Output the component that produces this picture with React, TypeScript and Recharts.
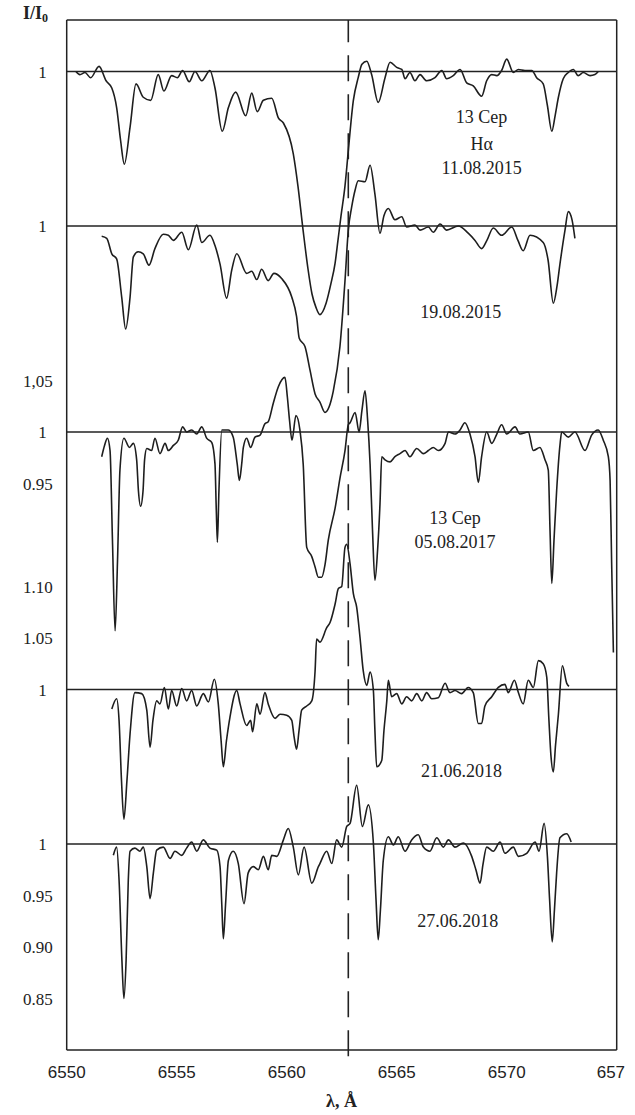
import React from "react";
import { LineChart, Line, XAxis, YAxis, ReferenceLine, ReferenceDot } from "recharts";

// 13 Cep, H-alpha region. Each spectrum: [wavelength, A ; I/I0]
const sp110815: [number, number][] = [
  [6550.42, 1.0], [6550.6, 0.997], [6550.83, 0.999], [6551.09, 0.994], [6551.47, 1.005],
  [6551.79, 0.991], [6552.05, 0.984], [6552.27, 0.965], [6552.45, 0.933], [6552.62, 0.91],
  [6552.88, 0.946], [6553.15, 0.988], [6553.48, 0.975], [6553.82, 0.972], [6554.16, 0.997],
  [6554.42, 0.981], [6554.77, 0.996], [6555.03, 0.994], [6555.27, 1.001], [6555.57, 0.99],
  [6555.83, 1.0], [6556.14, 0.991], [6556.51, 1.001], [6556.74, 0.984], [6557.07, 0.942],
  [6557.35, 0.965], [6557.68, 0.98], [6558.14, 0.957], [6558.41, 0.979], [6558.66, 0.961],
  [6558.94, 0.972], [6559.32, 0.974], [6559.62, 0.955], [6559.85, 0.95], [6560.3, 0.92],
  [6560.51, 0.889], [6560.75, 0.845], [6560.97, 0.808], [6561.15, 0.784], [6561.33, 0.771],
  [6561.51, 0.764], [6561.79, 0.775], [6562.01, 0.794], [6562.2, 0.814], [6562.33, 0.836],
  [6562.47, 0.86], [6562.65, 0.889], [6562.8, 0.923], [6563.03, 0.972], [6563.25, 0.994],
  [6563.42, 1.007], [6563.64, 1.01], [6563.86, 0.997], [6564.16, 0.97], [6564.47, 0.994],
  [6564.7, 1.009], [6565.0, 1.004], [6565.23, 1.002], [6565.38, 0.993], [6565.6, 0.999],
  [6565.83, 0.991], [6566.06, 0.997], [6566.36, 0.991], [6566.74, 0.994], [6567.05, 1.001],
  [6567.27, 0.993], [6567.57, 0.996], [6567.88, 1.002], [6568.18, 0.989], [6568.48, 0.986],
  [6568.86, 0.976], [6569.09, 0.991], [6569.32, 0.997], [6569.55, 0.996], [6569.77, 1.001],
  [6570.0, 1.012], [6570.3, 0.999], [6570.53, 1.002], [6570.83, 1.001], [6571.14, 1.001],
  [6571.36, 0.994], [6571.66, 0.988], [6571.85, 0.967], [6572.05, 0.942], [6572.2, 0.957],
  [6572.35, 0.975], [6572.57, 0.993], [6572.8, 0.999], [6573.03, 1.002], [6573.25, 0.996],
  [6573.48, 0.999], [6573.79, 0.996], [6574.01, 0.997], [6574.16, 1.0],
];

const sp190815: [number, number][] = [
  [6551.59, 0.99], [6551.82, 0.988], [6552.05, 0.973], [6552.27, 0.968], [6552.5, 0.931],
  [6552.68, 0.9], [6552.88, 0.931], [6553.03, 0.97], [6553.25, 0.975], [6553.48, 0.973],
  [6553.74, 0.962], [6554.01, 0.978], [6554.39, 0.992], [6554.62, 0.991], [6554.85, 0.986],
  [6555.23, 0.994], [6555.53, 0.977], [6555.91, 1.001], [6556.14, 0.984], [6556.51, 0.991],
  [6556.74, 0.981], [6556.97, 0.963], [6557.27, 0.93], [6557.5, 0.957], [6557.73, 0.973],
  [6558.18, 0.954], [6558.41, 0.956], [6558.64, 0.948], [6558.86, 0.958], [6559.16, 0.947],
  [6559.42, 0.954], [6559.77, 0.949], [6560.23, 0.931], [6560.45, 0.912], [6560.57, 0.891],
  [6560.83, 0.883], [6561.06, 0.86], [6561.29, 0.837], [6561.51, 0.829], [6561.74, 0.819],
  [6561.92, 0.824], [6562.12, 0.84], [6562.42, 0.883], [6562.65, 0.947], [6562.8, 0.996],
  [6562.95, 1.018], [6563.11, 1.035], [6563.25, 1.044], [6563.56, 1.043], [6563.79, 1.059],
  [6564.01, 1.031], [6564.24, 0.993], [6564.42, 1.01], [6564.62, 1.017], [6564.92, 1.006],
  [6565.23, 1.009], [6565.45, 0.999], [6565.83, 1.001], [6566.06, 0.996], [6566.44, 0.999],
  [6566.66, 0.994], [6566.97, 1.002], [6567.27, 0.996], [6567.8, 1.0], [6568.25, 0.993],
  [6568.56, 0.986], [6568.86, 0.978], [6569.1, 0.986], [6569.39, 0.998], [6569.77, 0.991],
  [6570.23, 0.999], [6570.51, 0.986], [6570.75, 0.976], [6571.06, 0.991], [6571.66, 0.984],
  [6571.88, 0.967], [6572.12, 0.925], [6572.29, 0.942], [6572.42, 0.963], [6572.65, 0.996],
  [6572.8, 1.014], [6572.97, 1.006], [6573.1, 0.988],
];

const sp050817: [number, number][] = [
  [6551.59, 0.976], [6551.72, 0.987], [6551.85, 0.994], [6551.97, 0.982], [6552.08, 0.895],
  [6552.2, 0.807], [6552.31, 0.875], [6552.42, 0.963], [6552.6, 0.994], [6552.85, 0.985],
  [6553.03, 0.989], [6553.18, 0.973], [6553.26, 0.943], [6553.36, 0.928], [6553.47, 0.943],
  [6553.54, 0.973], [6553.64, 0.984], [6553.86, 0.982], [6554.01, 0.994], [6554.24, 0.979],
  [6554.47, 0.989], [6554.62, 0.982], [6554.85, 0.987], [6555.07, 0.992], [6555.27, 1.005],
  [6555.45, 1.0], [6555.68, 1.002], [6555.91, 0.998], [6556.14, 1.005], [6556.36, 0.994],
  [6556.59, 0.99], [6556.74, 0.969], [6556.8, 0.924], [6556.85, 0.893], [6556.92, 0.943],
  [6557.05, 1.002], [6557.35, 1.002], [6557.57, 0.995], [6557.75, 0.969], [6557.85, 0.953],
  [6557.95, 0.968], [6558.03, 0.985], [6558.18, 0.994], [6558.36, 0.985], [6558.56, 0.995],
  [6558.79, 0.997], [6559.01, 1.008], [6559.16, 1.01], [6559.39, 1.028], [6559.62, 1.044],
  [6559.92, 1.053], [6560.03, 1.034], [6560.13, 1.011], [6560.24, 0.992], [6560.42, 1.016],
  [6560.6, 1.002], [6560.75, 0.969], [6560.91, 0.888], [6561.14, 0.879], [6561.29, 0.869],
  [6561.44, 0.859], [6561.59, 0.859], [6561.74, 0.871], [6561.89, 0.895], [6562.2, 0.926],
  [6562.42, 0.955], [6562.65, 0.982], [6562.8, 1.007], [6562.88, 1.009], [6563.11, 1.019],
  [6563.29, 1.0], [6563.42, 1.021], [6563.56, 1.04], [6563.68, 1.011], [6563.79, 0.969],
  [6563.9, 0.905], [6564.01, 0.856], [6564.13, 0.885], [6564.24, 0.93], [6564.32, 0.976],
  [6564.47, 0.973], [6564.7, 0.971], [6564.92, 0.976], [6565.15, 0.979], [6565.38, 0.982],
  [6565.6, 0.976], [6565.91, 0.984], [6566.21, 0.979], [6566.44, 0.982], [6566.66, 0.985],
  [6566.89, 0.982], [6567.2, 0.989], [6567.35, 1.0], [6567.65, 0.998], [6567.88, 1.002],
  [6568.1, 1.009], [6568.33, 0.998], [6568.56, 0.976], [6568.71, 0.951], [6568.86, 0.976],
  [6569.09, 1.0], [6569.32, 0.989], [6569.55, 0.998], [6569.77, 1.007], [6570.0, 0.998],
  [6570.38, 1.005], [6570.6, 0.998], [6570.98, 1.0], [6571.21, 0.982], [6571.51, 0.985],
  [6571.74, 0.973], [6571.89, 0.963], [6571.97, 0.904], [6572.05, 0.853], [6572.15, 0.895],
  [6572.27, 0.943], [6572.42, 0.987], [6572.5, 1.0], [6572.8, 0.995], [6573.1, 1.0],
  [6573.56, 0.982], [6573.86, 0.997], [6574.16, 1.002], [6574.39, 0.992], [6574.62, 0.976],
  [6574.7, 0.953], [6574.77, 0.873], [6574.85, 0.786],
];

const sp210618: [number, number][] = [
  [6552.05, 0.981], [6552.27, 0.991], [6552.38, 0.97], [6552.49, 0.912], [6552.6, 0.874],
  [6552.74, 0.912], [6552.88, 0.957], [6553.1, 0.997], [6553.41, 0.996], [6553.64, 0.98],
  [6553.79, 0.944], [6553.92, 0.97], [6554.09, 0.989], [6554.24, 0.986], [6554.44, 1.002],
  [6554.62, 0.981], [6554.77, 0.999], [6555.0, 0.984], [6555.23, 1.001], [6555.45, 0.989],
  [6555.68, 0.999], [6555.91, 0.984], [6556.21, 0.996], [6556.44, 0.988], [6556.71, 1.01],
  [6556.89, 0.986], [6557.02, 0.95], [6557.12, 0.925], [6557.26, 0.95], [6557.42, 0.973],
  [6557.73, 0.999], [6557.88, 0.986], [6558.18, 0.965], [6558.36, 0.97], [6558.45, 0.959],
  [6558.64, 0.986], [6558.79, 0.976], [6559.01, 0.997], [6559.16, 0.986], [6559.47, 0.972],
  [6559.7, 0.976], [6560.0, 0.975], [6560.23, 0.97], [6560.33, 0.955], [6560.45, 0.942],
  [6560.56, 0.96], [6560.68, 0.98], [6560.91, 0.984], [6561.14, 0.989], [6561.29, 1.018],
  [6561.36, 1.049], [6561.51, 1.046], [6561.82, 1.06], [6561.97, 1.065], [6562.2, 1.083],
  [6562.35, 1.098], [6562.5, 1.1], [6562.65, 1.138], [6562.73, 1.141], [6562.88, 1.122],
  [6563.03, 1.093], [6563.18, 1.08], [6563.33, 1.051], [6563.48, 1.018], [6563.64, 1.004],
  [6563.79, 1.017], [6563.94, 0.999], [6564.01, 0.96], [6564.09, 0.925], [6564.32, 0.931],
  [6564.42, 0.96], [6564.55, 0.989], [6564.62, 1.009], [6564.77, 0.993], [6565.0, 0.996],
  [6565.23, 0.986], [6565.45, 0.993], [6565.68, 0.989], [6565.91, 0.996], [6566.14, 0.989],
  [6566.36, 0.997], [6566.59, 0.991], [6566.89, 0.992], [6567.2, 1.006], [6567.42, 0.997],
  [6567.65, 0.999], [6567.95, 0.996], [6568.25, 1.002], [6568.48, 0.997], [6568.71, 0.967],
  [6568.86, 0.967], [6569.01, 0.984], [6569.32, 0.993], [6569.62, 1.002], [6569.92, 1.005],
  [6570.07, 0.997], [6570.35, 1.009], [6570.53, 0.997], [6570.75, 0.986], [6570.98, 1.009],
  [6571.21, 1.002], [6571.44, 1.028], [6571.66, 1.025], [6571.82, 1.012], [6571.92, 0.97],
  [6572.01, 0.936], [6572.12, 0.92], [6572.22, 0.946], [6572.35, 0.976], [6572.53, 1.023],
  [6572.73, 1.006], [6572.83, 1.003],
];

const sp270618: [number, number][] = [
  [6552.12, 0.989], [6552.27, 0.997], [6552.38, 0.965], [6552.51, 0.887], [6552.6, 0.85],
  [6552.7, 0.887], [6552.8, 0.965], [6552.88, 0.993], [6553.1, 0.996], [6553.33, 0.993],
  [6553.48, 0.997], [6553.64, 0.978], [6553.79, 0.947], [6553.94, 0.972], [6554.09, 0.994],
  [6554.39, 0.997], [6554.7, 0.986], [6554.92, 0.993], [6555.23, 0.989], [6555.45, 0.996],
  [6555.68, 1.002], [6555.91, 0.993], [6556.21, 1.004], [6556.51, 0.996], [6556.82, 0.994],
  [6556.97, 0.978], [6557.05, 0.941], [6557.12, 0.908], [6557.22, 0.941], [6557.35, 0.984],
  [6557.57, 0.993], [6557.8, 0.981], [6558.06, 0.942], [6558.25, 0.972], [6558.48, 0.978],
  [6558.71, 0.975], [6558.94, 0.988], [6559.16, 0.975], [6559.32, 0.989], [6559.55, 0.988],
  [6559.85, 1.004], [6560.07, 1.015], [6560.3, 0.997], [6560.53, 0.97], [6560.79, 0.997],
  [6561.14, 0.962], [6561.44, 0.978], [6561.51, 0.981], [6561.82, 0.993], [6562.05, 0.981],
  [6562.27, 1.004], [6562.5, 0.997], [6562.73, 1.017], [6562.88, 1.02], [6563.18, 1.057],
  [6563.44, 1.017], [6563.71, 1.038], [6563.94, 1.001], [6564.06, 0.946], [6564.16, 0.907],
  [6564.26, 0.936], [6564.39, 0.984], [6564.62, 1.007], [6564.85, 0.999], [6565.07, 1.007],
  [6565.38, 0.993], [6565.68, 1.004], [6565.98, 1.009], [6566.21, 0.997], [6566.51, 0.993],
  [6566.82, 1.006], [6567.12, 0.997], [6567.35, 1.004], [6567.65, 0.997], [6568.03, 1.001],
  [6568.41, 0.988], [6568.6, 0.975], [6568.79, 0.962], [6568.92, 0.98], [6569.09, 0.997],
  [6569.39, 0.993], [6569.7, 1.002], [6569.92, 0.991], [6570.3, 0.997], [6570.53, 0.988],
  [6570.91, 0.991], [6571.29, 1.002], [6571.47, 0.993], [6571.7, 1.02], [6571.85, 0.988],
  [6571.95, 0.946], [6572.07, 0.905], [6572.17, 0.936], [6572.27, 0.972], [6572.42, 1.006],
  [6572.73, 1.01], [6572.93, 1.002],
];

// vertical shift of each spectrum on the common axis
const spectra = [
  { id: "110815", shift: 0.75, points: sp110815 },
  { id: "190815", shift: 0.6, points: sp190815 },
  { id: "050817", shift: 0.4, points: sp050817 },
  { id: "210618", shift: 0.15, points: sp210618 },
  { id: "270618", shift: 0, points: sp270618 },
];

const xTicks = [6550, 6555, 6560, 6565, 6570, 6575];
const xTickText = ["6550", "6555", "6560", "6565", "6570", "657"];
const yTicks = [
  -0.15, -0.1, -0.05, 0, 0.05, 0.1, 0.15, 0.2, 0.25, 0.3,
  0.35, 0.4, 0.45, 0.5, 0.55, 0.6, 0.65, 0.7, 0.75,
];
const yTickText = [
  "0.85", "0.90", "0.95", "1", "", "", "1", "1.05", "1.10", "",
  "0.95", "1", "1,05", "", "", "1", "", "", "1",
];
const halpha = 6562.8;

const notes = [
  { text: "13 Cep", x: 6568.86, y: 0.706 },
  { text: "Hα", x: 6568.86, y: 0.68 },
  { text: "11.08.2015", x: 6568.86, y: 0.657 },
  { text: "19.08.2015", x: 6567.91, y: 0.517 },
  { text: "13 Cep", x: 6567.65, y: 0.317 },
  { text: "05.08.2017", x: 6567.65, y: 0.294 },
  { text: "21.06.2018", x: 6567.95, y: 0.071 },
  { text: "27.06.2018", x: 6567.77, y: -0.074 },
];

const INK = "#222";
const SERIF = "'Liberation Serif', 'Times New Roman', serif";
const SANS = "'Liberation Sans', Arial, sans-serif";

const YTick = (props: any) => {
  const { x, y, payload } = props;
  const i = yTicks.findIndex((t) => Math.abs(t - payload.value) < 1e-6);
  const text = i >= 0 ? yTickText[i] : "";
  if (!text) return <g />;
  return (
    <text
      x={x}
      y={y}
      dx={text === "1" ? -6 : 0}
      dy="0.38em"
      textAnchor="end"
      fontFamily={SERIF}
      fontSize={17}
      fill={INK}
    >
      {text}
    </text>
  );
};

const XTick = (props: any) => {
  const { x, y, payload } = props;
  const i = xTicks.indexOf(payload.value);
  const text = i >= 0 ? xTickText[i] : "";
  const last = i === xTicks.length - 1;
  return (
    <text
      x={x}
      y={y}
      dx={last ? -20 : 0}
      dy="0.71em"
      textAnchor={last ? "start" : "middle"}
      fontFamily={SANS}
      fontSize={17}
      fill={INK}
    >
      {text}
    </text>
  );
};

export default function App() {
  const series = spectra.map((s) => ({
    id: s.id,
    data: s.points.map(([lam, v]) => ({ x: lam, y: v - 1 + s.shift })),
  }));

  return (
    <div
      style={{
        position: "absolute",
        left: 0,
        top: 0,
        width: 635,
        height: 1115,
        background: "#fff",
      }}
    >
      <LineChart
        width={635}
        height={1115}
        margin={{ top: 20, right: 18.3, bottom: 35, left: 6.7 }}
      >
        <XAxis
          xAxisId="b"
          dataKey="x"
          type="number"
          domain={[6550, 6575]}
          ticks={xTicks}
          interval={0}
          allowDataOverflow
          height={30}
          tickLine={false}
          tickSize={0}
          tickMargin={16}
          axisLine={{ stroke: INK, strokeWidth: 1.5 }}
          tick={<XTick />}
        />
        <XAxis
          xAxisId="bm"
          dataKey="x"
          type="number"
          domain={[6550, 6575]}
          ticks={xTicks}
          interval={0}
          mirror
          axisLine={false}
          tick={false}
          tickSize={7}
          tickLine={{ stroke: INK, strokeWidth: 1.3 }}
        />
        <XAxis
          xAxisId="t"
          orientation="top"
          dataKey="x"
          type="number"
          domain={[6550, 6575]}
          ticks={xTicks}
          interval={0}
          mirror
          tick={false}
          tickSize={7}
          axisLine={{ stroke: INK, strokeWidth: 1.5 }}
          tickLine={{ stroke: INK, strokeWidth: 1.3 }}
        />
        <YAxis
          yAxisId="l"
          type="number"
          domain={[-0.2, 0.8]}
          ticks={yTicks}
          interval={0}
          allowDataOverflow
          width={60}
          tickLine={false}
          tickSize={0}
          tickMargin={14}
          axisLine={{ stroke: INK, strokeWidth: 1.5 }}
          tick={<YTick />}
        />
        <YAxis
          yAxisId="lm"
          type="number"
          domain={[-0.2, 0.8]}
          ticks={yTicks}
          interval={0}
          mirror
          axisLine={false}
          tick={false}
          tickSize={7}
          tickLine={{ stroke: INK, strokeWidth: 1.3 }}
        />
        <YAxis
          yAxisId="rm"
          orientation="right"
          type="number"
          domain={[-0.2, 0.8]}
          ticks={yTicks}
          interval={0}
          mirror
          tick={false}
          tickSize={7}
          axisLine={{ stroke: INK, strokeWidth: 1.5 }}
          tickLine={{ stroke: INK, strokeWidth: 1.3 }}
        />

        {spectra.map((s) => (
          <ReferenceLine
            key={"c" + s.id}
            xAxisId="b"
            yAxisId="l"
            y={s.shift}
            stroke={INK}
            strokeWidth={1.5}
          />
        ))}
        <ReferenceLine
          xAxisId="b"
          yAxisId="l"
          segment={[
            { x: halpha, y: -0.206 },
            { x: halpha, y: 0.8 },
          ]}
          ifOverflow="visible"
          stroke={INK}
          strokeWidth={1.6}
          strokeDasharray="26 13"
        />

        {series.map((s) => (
          <Line
            key={s.id}
            xAxisId="b"
            yAxisId="l"
            data={s.data}
            dataKey="y"
            type="monotone"
            stroke="#1e1e1e"
            strokeWidth={1.6}
            dot={false}
            activeDot={false}
            isAnimationActive={false}
          />
        ))}

        {notes.map((n, i) => (
          <ReferenceDot
            key={"n" + i}
            xAxisId="b"
            yAxisId="l"
            x={n.x}
            y={n.y}
            r={0}
            fill="none"
            stroke="none"
            label={{
              value: n.text,
              position: "center",
              fontFamily: SERIF,
              fontSize: 18,
              fill: INK,
            }}
          />
        ))}
      </LineChart>
      <div
        style={{
          position: "absolute",
          left: 23,
          top: 3,
          fontFamily: SERIF,
          fontWeight: "bold",
          fontSize: 18,
          color: INK,
          lineHeight: "20px",
        }}
      >
        I/I<sub style={{ fontSize: 12, verticalAlign: "-3px" }}>0</sub>
      </div>
      <div
        style={{
          position: "absolute",
          left: 0,
          width: 683,
          top: 1091,
          textAlign: "center",
          fontFamily: SERIF,
          fontWeight: "bold",
          fontSize: 18,
          color: INK,
          lineHeight: "20px",
        }}
      >
        λ, Å
      </div>
    </div>
  );
}
